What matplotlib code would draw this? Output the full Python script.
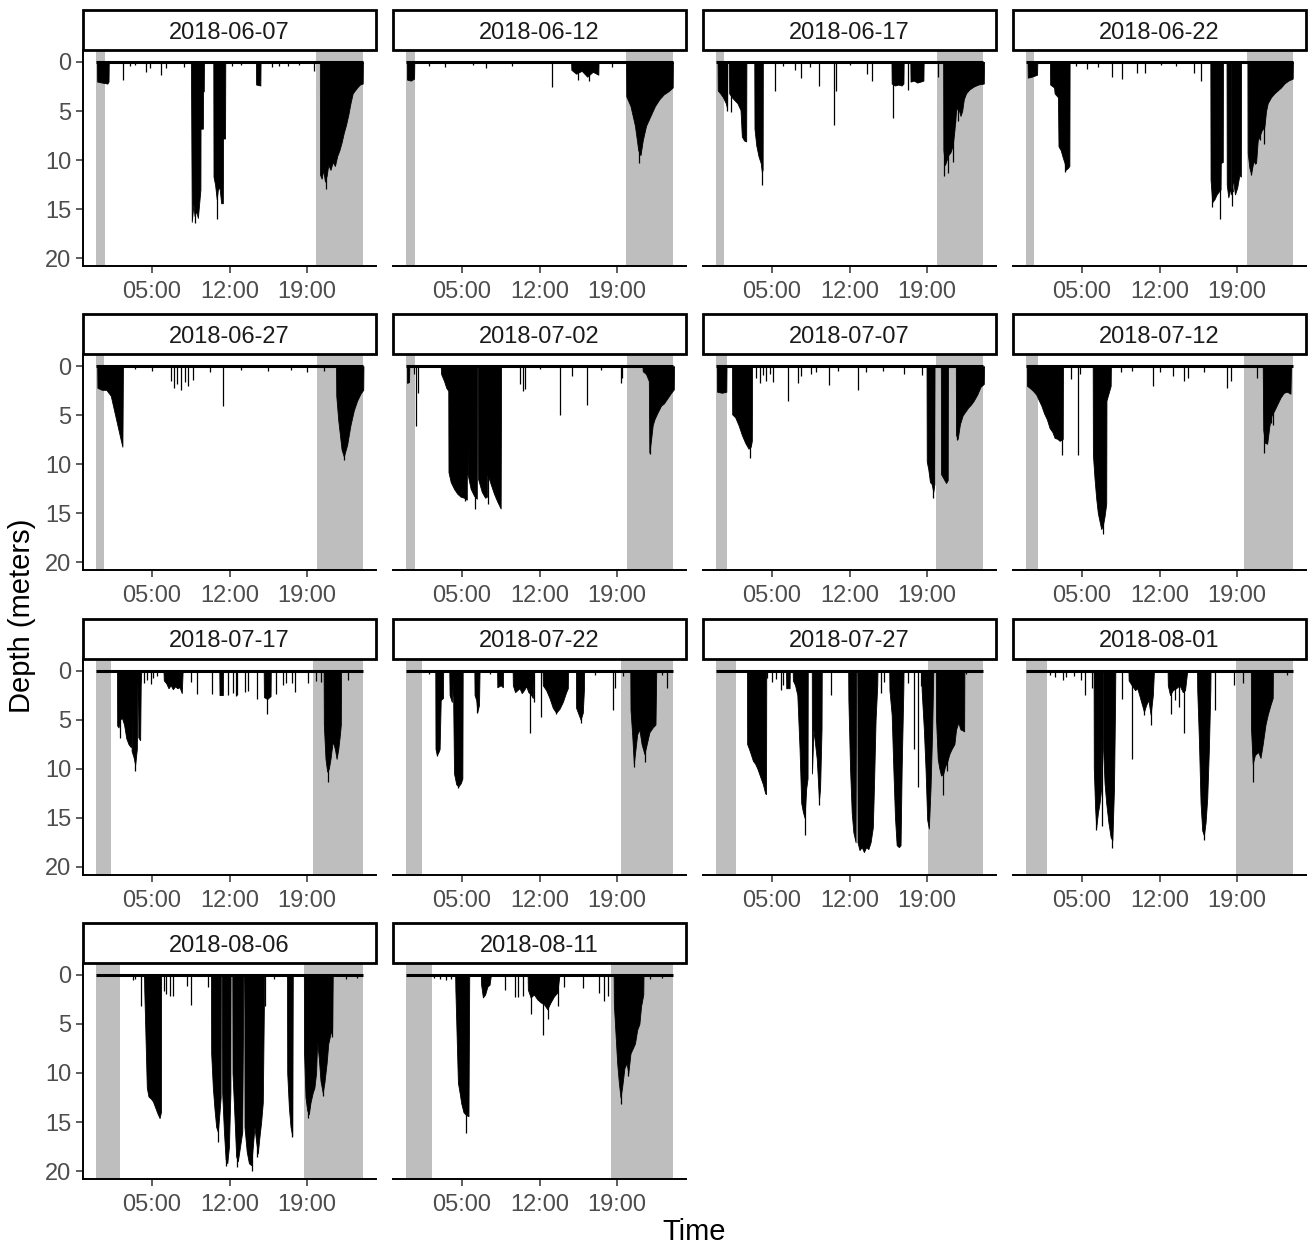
import matplotlib.pyplot as plt
from matplotlib.patches import Rectangle

plt.rcParams['font.family'] = ['Liberation Sans', 'DejaVu Sans']

# one panel per tag-day, depth in meters, time in hours since midnight
dates = ['2018-06-07', '2018-06-12', '2018-06-17', '2018-06-22',
         '2018-06-27', '2018-07-02', '2018-07-07', '2018-07-12',
         '2018-07-17', '2018-07-22', '2018-07-27', '2018-08-01',
         '2018-08-06', '2018-08-11']
sunrise = [0.80, 0.75, 0.68, 0.70, 0.70, 0.80, 0.98, 1.04, 1.34, 1.43, 1.73, 1.88, 2.15, 2.33]
sunset = [19.75, 19.80, 19.90, 19.90, 19.90, 19.90, 19.80, 19.60, 19.50, 19.30, 19.10, 18.90, 18.70, 18.40]

# dive bouts (depth profile) and single dives for every day
t_0607 = [0.05, 0.08, 0.5, 1.0, 1.1, 1.12,
          8.52, 8.54, 8.6, 8.75, 8.85, 9.0, 9.15, 9.3, 9.38, 9.39, 9.6, 9.62, 9.68, 9.7,
          10.54, 10.56, 10.7, 10.85, 10.95, 11.1, 11.25, 11.4, 11.42, 11.6, 11.62,
          14.38, 14.4, 14.78, 14.8,
          20.14, 20.16, 20.3, 20.45, 20.6, 20.75, 20.9, 21.1, 21.3, 21.5, 21.7, 21.9, 22.1,
          22.3, 22.5, 22.7, 22.9, 23.1, 23.3, 23.5, 23.75, 24.0, 24.02]
d_0607 = [0, 2.0, 2.1, 2.2, 2.0, 0,
          0, 3.2, 16.3, 14.5, 15.7, 15.2, 15.9, 14.0, 13.0, 6.8, 6.8, 3.0, 3.0, 0,
          0, 11.7, 12.5, 14.0, 13.0, 12.8, 14.4, 14.4, 7.8, 7.8, 0,
          0, 2.3, 2.4, 0,
          0, 11.5, 11.9, 11.0, 12.2, 11.6, 10.5, 11.0, 10.2, 10.6, 9.6, 9.0, 8.2,
          7.2, 6.4, 5.4, 4.2, 3.2, 2.9, 2.6, 2.3, 2.2, 0]
st_0607 = [2.4, 3.0, 3.5, 4.5, 4.8, 5.85, 6.3, 7.9, 8.9, 10.9, 12.2, 13.0, 15.8, 16.5, 17.3, 18.3, 19.6, 20.65]
sd_0607 = [1.8, 0.4, 0.3, 1.0, 0.6, 1.3, 0.6, 0.5, 16.4, 16.0, 0.4, 0.3, 0.5, 0.4, 0.4, 0.3, 0.9, 12.9]

t_0612 = [0.05, 0.07, 0.4, 0.7, 0.72,
          14.85, 14.87, 15.3, 15.8, 16.3, 16.8, 17.3, 17.32,
          19.8, 19.82, 20.2, 20.6, 20.9, 21.1, 21.3, 21.6, 22.0, 22.4, 22.8, 23.2, 23.6, 24.0, 24.02]
d_0612 = [0, 1.8, 1.9, 1.7, 0,
          0, 0.8, 1.2, 0.9, 1.5, 1.0, 1.3, 0,
          0, 3.5, 4.5, 6.5, 9.0, 9.5, 8.0, 6.5, 5.5, 4.5, 3.8, 3.3, 3.0, 2.6, 0]
st_0612 = [2.0, 3.5, 6.0, 7.2, 9.5, 13.1, 15.5, 16.5, 18.5, 21.0]
sd_0612 = [0.4, 0.5, 0.3, 0.6, 0.4, 2.6, 1.8, 1.9, 0.5, 10.3]

t_0617 = [0.11, 0.13, 0.35, 0.6, 0.85, 0.97, 0.99,
          1.14, 1.16, 1.4, 1.64, 1.9, 2.18, 2.3, 2.5, 2.69, 2.71,
          3.42, 3.44, 3.6, 3.8, 4.0, 4.1, 4.17, 4.19,
          15.78, 15.8, 16.1, 16.4, 16.7, 16.86, 16.88,
          17.48, 17.5, 17.8, 18.1, 18.4, 18.66, 18.68,
          20.44, 20.46, 20.6, 20.75, 20.9, 21.1, 21.3, 21.45, 21.6, 21.75, 22.0, 22.15,
          22.3, 22.5, 22.8, 23.2, 23.6, 24.1, 24.12]
d_0617 = [0, 2.9, 3.2, 3.6, 4.2, 4.7, 0,
          0, 3.2, 3.6, 3.9, 4.2, 4.9, 7.6, 8.0, 8.1, 0,
          0, 6.8, 8.5, 9.6, 10.3, 11.2, 11.0, 0,
          0, 2.2, 2.4, 2.3, 2.4, 2.2, 0,
          0, 2.0, 1.9, 2.1, 2.0, 1.9, 0,
          0, 9.0, 10.5, 10.0, 9.5, 9.2, 8.5, 7.0, 5.0, 4.5, 5.5, 5.0,
          3.8, 3.2, 2.8, 2.5, 2.3, 2.2, 0]
st_0617 = [0.95, 1.3, 4.1, 5.3, 6.0, 7.1, 7.6, 8.4, 9.23, 10.56, 10.8, 12.0, 13.56, 14.04,
           15.95, 17.24, 20.0, 20.55, 20.9, 21.3, 21.5, 21.8]
sd_0617 = [5.0, 5.1, 12.5, 3.0, 0.4, 0.8, 1.6, 0.5, 2.45, 6.4, 3.0, 0.3, 1.2, 1.9,
           5.75, 2.9, 1.5, 11.6, 11.3, 10.2, 6.2, 6.0]

t_0622 = [0.11, 0.13, 0.5, 0.97, 0.99,
          2.13, 2.15, 2.5, 2.55, 2.85, 2.9, 3.1, 3.3, 3.45, 3.55, 3.75, 3.88, 3.9,
          16.58, 16.6, 16.75, 16.95, 17.15, 17.35, 17.5, 17.52, 17.7, 17.72,
          18.04, 18.06, 18.2, 18.36, 18.37, 18.41, 18.42, 18.55, 18.58, 18.59, 18.62, 18.63,
          18.8, 19.0, 19.2, 19.33, 19.35,
          19.93, 19.95, 20.1, 20.25, 20.45, 20.7, 20.85, 21.0, 21.2, 21.45, 21.6, 21.75,
          22.05, 22.35, 22.65, 22.95, 23.25, 23.6, 24.0, 24.02]
d_0622 = [0, 1.6, 1.5, 1.3, 0,
          0, 2.3, 2.6, 3.2, 3.6, 8.6, 9.0, 9.8, 10.3, 11.0, 10.8, 10.6, 0,
          0, 12.0, 14.3, 14.0, 13.5, 13.2, 13.0, 10.3, 10.2, 0,
          0, 12.5, 13.8, 13.0, 0, 0, 13.5, 12.8, 13.2, 0, 0, 12.0,
          13.5, 12.8, 11.5, 11.7, 0,
          0, 9.3, 10.8, 11.4, 10.2, 10.3, 8.0, 7.6, 7.0, 6.6, 5.0, 4.2,
          3.6, 3.2, 2.9, 2.6, 2.2, 1.9, 1.7, 0]
st_0622 = [2.9, 3.5, 4.5, 5.5, 6.5, 7.7, 8.63, 9.98, 10.73, 12.15, 13.5, 15.15, 15.75,
           16.7, 17.45, 18.5, 20.2, 20.6, 21.05, 21.4]
sd_0622 = [3.8, 11.2, 0.4, 0.75, 0.5, 1.5, 1.7, 1.1, 1.15, 0.3, 0.4, 1.15, 1.9,
           14.8, 16.0, 14.7, 11.5, 10.4, 8.0, 8.4]

t_0627 = [0.08, 0.1, 0.5, 0.9, 1.3, 1.6, 1.9, 2.2, 2.35, 2.4,
          21.6, 21.62, 21.8, 22.1, 22.3, 22.6, 22.9, 23.2, 23.5, 23.8, 24.05, 24.07]
d_0627 = [0, 2.2, 2.4, 2.4, 3.0, 4.5, 6.0, 7.5, 8.2, 0,
          0, 3.0, 5.5, 8.5, 9.2, 8.0, 6.0, 4.5, 3.5, 2.8, 2.4, 0]
st_0627 = [3.5, 5.0, 6.7, 7.0, 7.3, 7.6, 8.0, 8.3, 8.7, 10.2, 11.4, 13.0, 15.5, 17.5, 19.0, 20.5, 22.3]
sd_0627 = [0.3, 0.5, 1.5, 2.2, 1.8, 2.4, 1.6, 2.0, 1.4, 0.6, 4.0, 0.4, 0.5, 0.4, 0.6, 0.5, 9.6]

t_0702 = [0.05, 0.07, 0.25, 0.27,
          3.1, 3.14, 3.4, 3.6, 3.78, 3.8, 4.0, 4.3, 4.6, 4.9, 5.2, 5.45, 5.46, 5.5, 5.52,
          5.8, 6.1, 6.35, 6.37, 6.45, 6.47, 6.8, 7.1, 7.26, 7.27, 7.3, 7.32, 7.6, 7.9,
          8.2, 8.5, 8.54,
          21.28, 21.3, 21.6, 21.85, 21.9, 22.05, 22.2, 22.36, 22.6, 22.96, 23.2, 23.56,
          23.8, 24.1, 24.12]
d_0702 = [0, 1.7, 1.6, 0,
          0, 0.8, 1.5, 2.2, 2.5, 10.8, 11.8, 12.5, 13.0, 13.3, 13.4, 13.6, 0, 0, 11.0,
          12.5, 13.2, 13.5, 0, 0, 11.5, 12.8, 13.4, 13.3, 0, 0, 11.0, 12.0, 13.0,
          13.8, 14.5, 0,
          0, 0.5, 0.8, 1.5, 8.8, 7.5, 6.0, 5.4, 4.8, 4.0, 3.8, 3.2,
          2.8, 2.35, 0]
st_0702 = [0.7, 0.9, 1.04, 5.3, 6.2, 7.4, 10.28, 10.5, 10.7, 12.0, 13.86, 14.94, 16.26,
           17.5, 19.3, 19.45, 22.0]
sd_0702 = [0.8, 6.1, 2.7, 13.7, 14.5, 14.0, 1.8, 2.5, 2.3, 0.3, 5.0, 1.0, 3.9,
           0.4, 1.7, 1.2, 8.9]

t_0707 = [0.05, 0.07, 0.5, 0.9, 0.92,
          1.41, 1.43, 1.7, 2.0, 2.3, 2.6, 2.9, 3.1, 3.2, 3.22,
          18.94, 18.96, 19.1, 19.25, 19.4, 19.55, 19.65, 19.67,
          20.23, 20.25, 20.5, 20.7, 20.85, 20.87,
          21.58, 21.6, 21.75, 21.95, 22.2, 22.45, 22.7, 22.95, 23.2, 23.5, 23.8, 24.1, 24.12]
d_0707 = [0, 2.6, 2.7, 2.6, 0,
          0, 4.9, 5.2, 6.0, 7.0, 7.8, 8.4, 8.2, 7.6, 0,
          0, 9.7, 10.5, 11.8, 12.0, 12.8, 12.0, 0,
          0, 11.0, 11.5, 11.9, 11.6, 0,
          0, 7.0, 7.4, 5.9, 5.0, 4.6, 4.2, 3.9, 3.5, 2.9, 2.1, 1.8, 0]
st_0707 = [3.0, 3.6, 3.9, 4.2, 4.5, 4.8, 5.1, 6.47, 7.34, 7.6, 8.5, 9.0, 10.13, 11.0, 12.8,
           13.5, 15.0, 16.95, 18.5, 19.55, 21.65]
sd_0707 = [9.4, 1.2, 1.7, 0.9, 1.5, 0.8, 1.6, 3.5, 1.7, 1.0, 0.8, 0.6, 1.9, 0.5, 2.45,
           0.6, 0.5, 0.75, 0.9, 13.4, 7.5]

t_0712 = [0.05, 0.07, 0.3, 0.6, 0.9, 1.1, 1.35, 1.6, 1.85, 2.1, 2.35, 2.55, 2.8, 3.0, 3.2,
          3.28, 3.3,
          5.98, 6.0, 6.15, 6.3, 6.45, 6.6, 6.75, 6.9, 7.05, 7.2, 7.22, 7.6, 7.62,
          21.3, 21.35, 21.5, 21.7, 21.9, 22.1, 22.35, 22.6, 22.9, 23.2, 23.5, 23.8, 23.85]
d_0712 = [0, 2.0, 2.2, 2.5, 2.9, 3.4, 4.0, 4.8, 5.4, 6.3, 6.7, 7.3, 7.4, 7.6, 7.5,
          7.4, 0,
          0, 9.0, 11.5, 13.5, 15.0, 15.8, 16.6, 16.2, 15.3, 14.0, 3.5, 2.0, 0,
          0, 6.5, 7.8, 7.9, 6.1, 5.0, 4.5, 3.9, 3.2, 2.7, 2.6, 2.8, 0]
st_0712 = [3.25, 4.04, 4.64, 4.8, 6.95, 8.5, 9.5, 11.4, 12.0, 13.2, 14.25, 14.6, 16.0,
           18.1, 18.44, 20.8, 21.4, 22.05, 22.25]
sd_0712 = [9.0, 1.3, 9.0, 0.8, 17.1, 0.6, 0.5, 2.0, 0.6, 1.0, 1.5, 1.2, 0.6,
           2.2, 1.5, 1.15, 8.8, 5.8, 6.0]

t_0717 = [1.86, 1.88, 2.0, 2.15, 2.3, 2.5, 2.7, 2.9, 3.1, 3.12, 3.16, 3.18, 3.35, 3.5,
          3.65, 3.72, 3.76, 3.78, 3.95, 4.0, 4.05,
          6.05, 6.08, 6.3, 6.5, 6.7, 6.9, 7.1, 7.3, 7.5, 7.7, 7.78,
          11.08, 11.1, 11.4, 11.42,
          15.08, 15.1, 15.4, 15.7, 15.72,
          20.48, 20.5, 20.65, 20.8, 20.95, 21.1, 21.3, 21.5, 21.65, 21.8, 21.95, 22.03, 22.05]
d_0717 = [0, 5.6, 5.8, 5.0, 4.8, 5.5, 6.9, 7.5, 7.8, 0, 0, 8.2, 8.8, 9.6,
          8.0, 0, 0, 6.8, 7.1, 1.5, 0,
          0, 1.0, 1.3, 1.8, 1.5, 1.9, 1.6, 1.8, 1.7, 2.3, 0,
          0, 2.5, 2.5, 0,
          0, 2.7, 2.9, 2.6, 0,
          0, 5.5, 9.0, 10.3, 10.0, 9.0, 7.2, 8.0, 9.0, 8.0, 6.5, 5.5, 0]
st_0717 = [2.1, 3.5, 4.3, 4.6, 4.9, 5.1, 5.5, 8.55, 9.1, 10.4, 11.85, 12.3, 12.55, 12.7,
           13.4, 13.7, 14.5, 15.35, 16.2, 16.8, 17.1, 17.6, 17.9, 19.1, 19.8, 20.2, 20.85, 22.66]
sd_0717 = [6.9, 10.2, 1.3, 1.0, 1.4, 0.8, 0.6, 1.2, 2.35, 2.35, 2.5, 2.3, 2.6, 2.5,
           2.2, 2.1, 2.9, 4.4, 2.35, 1.5, 1.3, 1.3, 2.2, 1.3, 1.1, 1.2, 11.4, 1.0]

t_0722 = [2.61, 2.63, 2.75, 2.9, 3.0, 3.1, 3.3, 3.32,
          3.87, 3.9, 4.1, 4.2, 4.3, 4.5, 4.7, 4.9, 5.05, 5.08,
          6.13, 6.15, 6.3, 6.4, 6.55, 6.6,
          8.18, 8.2, 8.5, 8.7, 8.72,
          9.58, 9.6, 9.8, 10.0, 10.2, 10.4, 10.6, 10.8, 11.0, 11.2, 11.4, 11.5,
          12.28, 12.3, 12.6, 12.9, 13.2, 13.5, 13.8, 14.1, 14.4, 14.55, 14.57,
          15.28, 15.3, 15.5, 15.7, 15.9, 16.0, 16.02,
          20.18, 20.2, 20.35, 20.5, 20.65, 20.8, 21.0, 21.2, 21.45, 21.6, 21.9, 22.2,
          22.45, 22.5, 22.52]
d_0722 = [0, 8.0, 8.6, 8.3, 8.0, 3.0, 2.8, 0,
          0, 2.5, 3.2, 1.0, 10.5, 11.6, 11.8, 11.5, 11.0, 0,
          0, 2.5, 3.0, 4.2, 3.5, 0,
          0, 1.7, 1.5, 1.7, 0,
          0, 1.5, 2.2, 2.0, 1.8, 2.3, 2.0, 1.6, 2.2, 2.4, 2.8, 0,
          0, 1.5, 2.0, 2.8, 3.8, 4.3, 3.9, 3.2, 2.2, 1.8, 0,
          0, 3.8, 4.4, 5.0, 4.3, 2.0, 0,
          0, 4.0, 6.5, 9.5, 8.0, 6.5, 6.0, 7.5, 8.5, 7.8, 6.3, 5.8,
          5.5, 1.5, 0]
st_0722 = [2.0, 2.8, 4.7, 6.4, 7.5, 11.1, 11.5, 12.15, 13.5, 15.7, 17.0, 18.6, 18.8, 19.5,
           20.55, 21.55, 23.0, 23.5]
sd_0722 = [0.3, 8.7, 12.0, 4.3, 0.4, 6.4, 3.2, 4.7, 4.4, 5.3, 0.5, 4.0, 1.8, 0.6,
           9.8, 9.3, 0.5, 1.8]

t_0727 = [2.76, 2.78, 2.95, 3.1, 3.3, 3.5, 3.7, 3.95, 4.2, 4.4, 4.48, 4.5,
          6.28, 6.3, 6.6, 6.62,
          6.88, 6.9, 7.1, 7.3, 7.5, 7.65, 7.8, 7.95, 8.1, 8.22, 8.24,
          8.6, 8.62, 8.75, 8.9, 9.05, 9.25, 9.35, 9.48, 9.5,
          11.88, 11.9, 12.05, 12.2, 12.35, 12.55, 12.6, 12.7, 12.72, 12.9, 13.1, 13.3, 13.5,
          13.7, 13.9, 14.1, 14.2, 14.35, 14.5, 14.52,
          15.58, 15.6, 15.8, 15.95, 16.1, 16.25, 16.45, 16.6, 16.7, 16.85, 16.87,
          18.48, 18.5, 18.7, 18.85, 19.0, 19.15, 19.3, 19.45, 19.55,
          19.78, 19.8, 19.95, 20.1, 20.25, 20.45, 20.6, 20.8, 21.0, 21.2, 21.45, 21.6, 21.8,
          22.0, 22.2, 22.33, 22.35]
d_0727 = [0, 7.5, 8.0, 8.5, 9.2, 9.5, 10.0, 10.8, 11.6, 12.5, 12.6, 0,
          0, 1.8, 1.8, 0,
          0, 1.0, 1.5, 2.5, 8.0, 13.5, 14.4, 15.0, 12.0, 11.0, 0,
          0, 10.5, 6.0, 7.5, 9.0, 13.2, 12.0, 6.0, 0,
          0, 3.0, 10.0, 14.5, 16.5, 17.5, 0, 0, 17.5, 18.3, 18.0, 18.5, 18.0,
          18.2, 17.5, 16.0, 12.0, 5.0, 1.5, 0,
          0, 2.0, 4.5, 10.0, 15.0, 17.8, 18.0, 17.8, 10.0, 2.0, 0,
          0, 2.0, 6.0, 10.0, 15.2, 16.1, 12.0, 6.0, 0,
          0, 5.0, 9.0, 10.0, 10.7, 10.5, 9.8, 9.3, 8.5, 8.0, 7.5, 6.0, 5.3,
          6.0, 6.1, 6.2, 0]
st_0727 = [4.6, 5.0, 5.4, 5.8, 6.0, 8.0, 9.25, 10.3, 14.85, 15.1, 17.25, 17.85, 18.2, 18.4,
           20.4, 20.8, 22.5]
sd_0727 = [0.8, 1.2, 0.9, 2.0, 1.5, 16.8, 13.7, 2.5, 2.3, 1.2, 1.3, 8.0, 11.9, 1.6,
           12.7, 10.2, 0.4]

t_0801 = [6.06, 6.08, 6.2, 6.3, 6.45, 6.6, 6.75, 6.8,
          6.9, 6.92, 7.05, 7.2, 7.4, 7.6, 7.75, 7.9, 8.0, 8.02,
          9.2, 9.22, 9.5, 9.8, 10.0, 10.3, 10.6, 10.8, 11.0, 11.2, 11.4, 11.5,
          12.73, 12.75, 12.95, 13.2, 13.5, 13.8, 14.1, 14.3, 14.5,
          15.38, 15.4, 15.55, 15.7, 15.85, 16.0, 16.15, 16.3, 16.45, 16.58, 16.6,
          20.23, 20.25, 20.4, 20.6, 20.9, 21.1, 21.3, 21.55, 21.75, 22.0, 22.2, 22.22]
d_0801 = [0, 10.0, 14.0, 16.0, 14.5, 13.5, 12.0, 0,
          0, 8.0, 11.5, 13.5, 15.5, 17.0, 17.3, 12.0, 3.0, 0,
          0, 1.0, 1.5, 2.0, 1.8, 3.0, 4.2, 3.5, 3.0, 4.5, 2.5, 0,
          0, 1.5, 2.5, 2.0, 1.8, 1.5, 2.2, 2.0, 0,
          0, 2.0, 7.0, 13.5, 16.3, 16.8, 15.5, 13.0, 8.0, 2.0, 0,
          0, 6.0, 9.5, 8.6, 8.3, 8.9, 7.5, 5.5, 4.5, 3.5, 2.8, 0]
st_0801 = [2.1, 2.6, 3.35, 3.6, 4.3, 4.9, 5.3, 5.9, 6.25, 6.85, 7.75, 8.6, 9.5, 10.6, 11.25,
           13.0, 13.4, 13.8, 14.25, 16.05, 17.0, 18.7, 19.5, 20.4, 23.5]
sd_0801 = [0.5, 0.7, 1.0, 0.7, 0.6, 1.0, 2.5, 1.8, 16.3, 15.8, 18.1, 2.9, 9.0, 4.5, 5.5,
           4.4, 3.0, 3.7, 6.4, 17.3, 4.0, 1.5, 1.3, 11.4, 0.5]

t_0806 = [4.3, 4.32, 4.55, 4.7, 4.9, 5.1, 5.3, 5.5, 5.7, 5.82, 5.84,
          10.33, 10.35, 10.5, 10.65, 10.8, 10.95, 11.1, 11.2, 11.22,
          11.32, 11.34, 11.5, 11.65, 11.8, 11.95, 12.08, 12.1,
          12.25, 12.27, 12.45, 12.6, 12.75, 12.95, 13.15, 13.25,
          13.33, 13.35, 13.55, 13.75, 13.95, 14.1, 14.25, 14.4, 14.55, 14.7, 14.85, 15.0,
          15.1, 15.12,
          17.18, 17.2, 17.35, 17.5, 17.65, 17.7,
          18.7, 18.72, 18.85, 19.0, 19.15, 19.3, 19.5, 19.65, 19.8, 19.9, 20.05, 20.2, 20.4,
          20.55, 20.75, 20.9, 21.1, 21.25, 21.3]
d_0806 = [0, 1.5, 11.5, 12.4, 12.6, 12.9, 13.5, 14.1, 14.6, 14.0, 0,
          0, 8.0, 11.5, 13.7, 15.5, 16.0, 14.0, 12.5, 0,
          0, 12.0, 16.0, 18.8, 19.2, 17.5, 12.0, 0,
          0, 10.0, 14.5, 18.5, 19.0, 17.5, 16.0, 0,
          0, 15.5, 18.0, 19.2, 19.4, 17.5, 15.5, 17.0, 18.2, 16.5, 15.0, 13.0,
          3.0, 0,
          0, 10.0, 13.5, 15.5, 16.4, 0,
          0, 8.0, 12.5, 13.8, 14.2, 13.0, 12.0, 11.5, 10.0, 6.8, 8.5, 10.8, 12.0,
          11.0, 9.0, 7.0, 6.0, 5.5, 0]
st_0806 = [3.3, 3.5, 4.05, 6.1, 6.3, 6.6, 6.95, 8.2, 8.5, 10.1, 11.0, 11.7, 12.7, 14.05,
           14.5, 15.2, 16.0, 17.65, 19.1, 20.4, 21.2, 22.5, 23.5]
sd_0806 = [0.5, 0.4, 3.2, 1.6, 1.9, 2.2, 2.2, 1.1, 3.1, 1.2, 17.0, 19.5, 19.6, 20.0,
           18.6, 3.2, 0.4, 16.5, 14.6, 12.3, 6.3, 0.4, 0.3]

t_0811 = [4.4, 4.42, 4.65, 4.8, 4.95, 5.15, 5.4, 5.6, 5.67,
          6.72, 6.74, 6.9, 7.1, 7.3, 7.5, 7.62,
          10.93, 10.95, 11.2, 11.5, 11.8, 12.1, 12.4, 12.7, 13.0, 13.3, 13.6, 13.8,
          18.68, 18.7, 18.85, 19.0, 19.15, 19.3, 19.45, 19.65, 19.85, 20.0, 20.2, 20.4,
          20.6, 20.8, 21.0, 21.15, 21.35, 21.37]
d_0811 = [0, 1.5, 11.0, 12.0, 13.1, 14.0, 14.3, 14.4, 0,
          0, 1.0, 2.3, 2.0, 1.2, 1.0, 0,
          0, 1.5, 2.3, 2.0, 2.5, 2.8, 3.0, 3.5, 2.8, 2.2, 1.8, 0,
          0, 3.0, 6.0, 9.0, 11.0, 12.5, 11.4, 9.5, 9.0, 10.0, 8.0, 7.5,
          7.0, 5.6, 5.0, 3.2, 2.0, 0]
st_0811 = [2.5, 3.0, 3.6, 4.0, 5.35, 8.93, 9.8, 10.05, 10.5, 11.2, 12.3, 12.8, 13.65, 14.25,
           15.9, 17.4, 17.8, 18.15, 19.35, 20.0, 22.0, 23.0]
sd_0811 = [0.3, 0.4, 0.5, 0.4, 16.1, 1.5, 2.3, 2.3, 2.2, 4.0, 6.1, 4.5, 3.2, 1.2,
           1.3, 1.8, 2.7, 2.2, 13.2, 10.3, 0.4, 0.3]

panels = [(t_0607, d_0607, st_0607, sd_0607), (t_0612, d_0612, st_0612, sd_0612),
          (t_0617, d_0617, st_0617, sd_0617), (t_0622, d_0622, st_0622, sd_0622),
          (t_0627, d_0627, st_0627, sd_0627), (t_0702, d_0702, st_0702, sd_0702),
          (t_0707, d_0707, st_0707, sd_0707), (t_0712, d_0712, st_0712, sd_0712),
          (t_0717, d_0717, st_0717, sd_0717), (t_0722, d_0722, st_0722, sd_0722),
          (t_0727, d_0727, st_0727, sd_0727), (t_0801, d_0801, st_0801, sd_0801),
          (t_0806, d_0806, st_0806, sd_0806), (t_0811, d_0811, st_0811, sd_0811)]

W, H = 1314, 1248
fig = plt.figure(figsize=(W / 100, H / 100), dpi=100)

for i, date in enumerate(dates):
    row, col = divmod(i, 4)
    left = 83 + 310 * col
    top = 50 + 304.3 * row
    ax = fig.add_axes([left / W, 1 - (top + 216) / H, 293 / W, 216 / H])
    t, d, st, sd = panels[i]

    # night
    ax.axvspan(0, sunrise[i], color='#bebebe', lw=0)
    ax.axvspan(sunset[i], 24, color='#bebebe', lw=0)

    ax.hlines(0, 0, 24, color='black', lw=2.2)
    ax.fill_between(t, 0, d, color='black', lw=0.6)
    ax.vlines(st, 0, sd, color='black', lw=0.9)

    ax.set_xlim(-1.2, 25.2)
    ax.set_ylim(20.8, -1.22)
    ax.set_xticks([5, 12, 19])
    ax.set_xticklabels(['05:00', '12:00', '19:00'])
    ax.set_yticks([0, 5, 10, 15, 20])
    ax.tick_params(labelsize=17, labelcolor='#4d4d4d', color='#333333',
                   length=5, width=1.1)
    ax.tick_params(axis='x', pad=5.8)
    ax.spines['top'].set_visible(False)
    ax.spines['right'].set_visible(False)
    ax.spines['bottom'].set_linewidth(1.4)
    ax.spines['left'].set_linewidth(1.4)
    if col > 0:
        ax.spines['left'].set_visible(False)
        ax.tick_params(axis='y', left=False, labelleft=False)

    # facet strip
    sh = 40 / 216
    ax.add_patch(Rectangle((0, 1), 1, sh, transform=ax.transAxes, facecolor='white',
                           edgecolor='black', lw=2, clip_on=False))
    ax.text(0.5, 1 + sh / 2 - 0.013, date, transform=ax.transAxes, ha='center',
            va='center', fontsize=17, color='#1a1a1a')

fig.text(694 / W, 1 - 1232 / H, 'Time', ha='center', va='center', fontsize=21)
fig.text(22 / W, 1 - 616 / H, 'Depth (meters)', ha='center', va='center',
         rotation=90, fontsize=21)

fig.savefig('out.png', dpi=100)
